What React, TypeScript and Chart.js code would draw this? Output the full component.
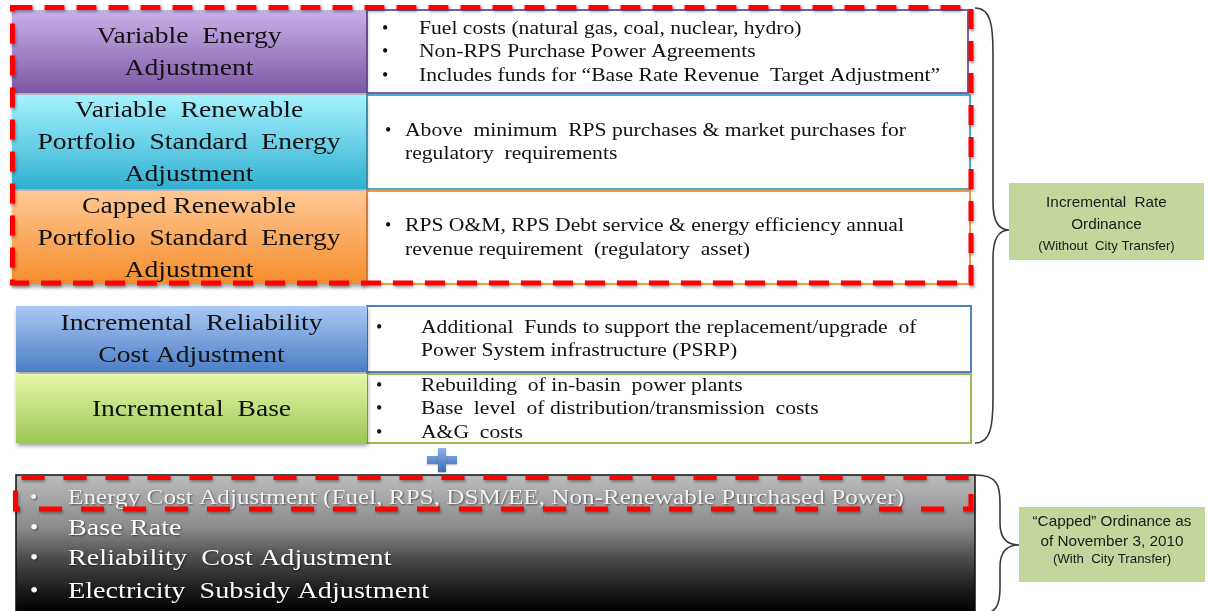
import React, { useEffect, useRef } from "react";
import { Chart, registerables } from "chart.js";

Chart.register(...registerables);

// ---------------- data ----------------
const componentLabels: string[][] = [
  ["Variable  Energy", "Adjustment"],
  ["Variable  Renewable", "Portfolio  Standard  Energy", "Adjustment"],
  ["Capped Renewable", "Portfolio  Standard  Energy", "Adjustment"],
  ["Incremental  Reliability", "Cost Adjustment"],
  ["Incremental  Base"],
];

// each item: lines; first line carries the bullet
const componentDetails: string[][][] = [
  [
    ["Fuel costs (natural gas, coal, nuclear, hydro)"],
    ["Non-RPS Purchase Power Agreements"],
    ["Includes funds for \u201CBase Rate Revenue  Target Adjustment\u201D"],
  ],
  [["Above  minimum  RPS purchases & market purchases for", "regulatory  requirements"]],
  [["RPS O&M, RPS Debt service & energy efficiency annual", "revenue requirement  (regulatory  asset)"]],
  [["Additional  Funds to support the replacement/upgrade  of", "Power System infrastructure (PSRP)"]],
  [
    ["Rebuilding  of in-basin  power plants"],
    ["Base  level  of distribution/transmission  costs"],
    ["A&G  costs"],
  ],
];

const cappedItems: string[] = [
  "Energy Cost Adjustment (Fuel, RPS, DSM/EE, Non-Renewable Purchased Power)",
  "Base Rate",
  "Reliability  Cost Adjustment",
  "Electricity  Subsidy Adjustment",
];

const ordinanceLabels: string[][] = [
  ["Incremental  Rate", "Ordinance", "(Without  City Transfer)"],
  ["\u201CCapped\u201D Ordinance as", "of November 3, 2010", "(With  City Transfer)"],
];

// ---------------- styles & layout ----------------
const gradTop = ["#c9b2e8", "#a6f2ff", "#fec894", "#aac9f4", "#e6f8aa"];
const gradBottom = ["#7c57a5", "#2fb0d2", "#f68d2c", "#4b7dc6", "#9cc655"];
const borderColors = ["#7e5fab", "#4bacc6", "#f79646", "#4f81bd", "#9bbb59"];

const leftBoxes = [
  [12, 366, 10, 93],
  [12, 366, 95, 189],
  [12, 366, 191, 284],
  [16, 367, 306, 372],
  [16, 367, 374, 443],
];
const rightBoxes = [
  [367, 968, 10, 93],
  [367, 970, 95, 189],
  [367, 970, 191, 284],
  [367, 971, 306, 372],
  [367, 971, 374, 443],
];
const detailIndent = [
  [382, 419],
  [385, 405],
  [385, 405],
  [376, 421],
  [376, 421],
];

const SERIF = '"Liberation Serif", "Times New Roman", serif';
const SANS = '"Liberation Sans", Arial, sans-serif';
const STRETCH = 1.2;

function drawText(
  ctx: CanvasRenderingContext2D,
  text: string,
  x: number,
  y: number,
  size: number,
  family: string,
  align: "left" | "center",
  color: string,
  sx: number
) {
  ctx.save();
  ctx.font = `${size}px ${family}`;
  ctx.fillStyle = color;
  ctx.textBaseline = "middle";
  ctx.textAlign = "left";
  const w = ctx.measureText(text).width * sx;
  const x0 = align === "center" ? x - w / 2 : x;
  ctx.translate(x0, y);
  ctx.scale(sx, 1);
  ctx.fillText(text, 0, 0);
  ctx.restore();
}

function drawBrace(
  ctx: CanvasRenderingContext2D,
  x0: number,
  y0: number,
  y1: number,
  xm: number,
  xt: number,
  yt: number,
  r: number,
  rt: number
) {
  ctx.beginPath();
  ctx.moveTo(x0, y0);
  ctx.bezierCurveTo(xm - 2, y0, xm, y0 + r * 0.4, xm, y0 + r);
  ctx.lineTo(xm, yt - rt);
  ctx.bezierCurveTo(xm, yt - rt * 0.3, xt - (xt - xm) * 0.6, yt, xt, yt);
  ctx.bezierCurveTo(xt - (xt - xm) * 0.6, yt, xm, yt + rt * 0.3, xm, yt + rt);
  ctx.lineTo(xm, y1 - r);
  ctx.bezierCurveTo(xm, y1 - r * 0.4, xm - 2, y1, x0, y1);
  ctx.stroke();
}

const diagramPlugin = {
  id: "rateDiagram",
  afterDraw(chart: any) {
    const ctx: CanvasRenderingContext2D = chart.ctx;
    const xs = chart.scales.x;
    const ys = chart.scales.y;
    const px = (v: number) => xs.getPixelForValue(v);
    const py = (v: number) => ys.getPixelForValue(v);

    ctx.save();
    ctx.fillStyle = "#ffffff";
    ctx.fillRect(px(0), py(0), px(1208) - px(0), py(611) - py(0));

    // right (detail) boxes
    rightBoxes.forEach((b, i) => {
      ctx.save();
      ctx.strokeStyle = borderColors[i];
      ctx.lineWidth = 2;
      ctx.strokeRect(px(b[0]), py(b[2]), px(b[1]) - px(b[0]), py(b[3]) - py(b[2]));
      ctx.restore();
    });

    // left (component) boxes with gradients
    leftBoxes.forEach((b, i) => {
      const x0 = px(b[0]), x1 = px(b[1]), y0 = py(b[2]), y1 = py(b[3]);
      const g = ctx.createLinearGradient(0, y0, 0, y1);
      g.addColorStop(0, gradTop[i]);
      g.addColorStop(1, gradBottom[i]);
      ctx.save();
      ctx.shadowColor = "rgba(0,0,0,0.35)";
      ctx.shadowBlur = 4;
      ctx.shadowOffsetX = 1;
      ctx.shadowOffsetY = 3;
      ctx.fillStyle = g;
      ctx.fillRect(x0, y0, x1 - x0, y1 - y0);
      ctx.restore();
      const lines = componentLabels[i];
      const cy = (b[2] + b[3]) / 2 + 1;
      const lh = 32;
      lines.forEach((t, k) => {
        const y = cy + (k - (lines.length - 1) / 2) * lh;
        drawText(ctx, t, px((b[0] + b[1]) / 2), py(y), 23, SERIF, "center", "#111111", STRETCH);
      });
    });

    // detail texts
    componentDetails.forEach((items, i) => {
      const b = rightBoxes[i];
      const lines: { t: string; bullet: boolean }[] = [];
      items.forEach((it) => it.forEach((t, k) => lines.push({ t, bullet: k === 0 })));
      const cy = (b[2] + b[3]) / 2 + 1;
      const lh = 23.5;
      lines.forEach((ln, k) => {
        const y = cy + (k - (lines.length - 1) / 2) * lh;
        if (ln.bullet) drawText(ctx, "\u2022", px(detailIndent[i][0]), py(y), 18, SERIF, "left", "#111111", 1);
        drawText(ctx, ln.t, px(detailIndent[i][1]), py(y), 18, SERIF, "left", "#111111", STRETCH);
      });
    });

    // red dashed outline (top group)
    ctx.save();
    ctx.strokeStyle = "#ff0000";
    ctx.lineWidth = 5;
    ctx.setLineDash([20, 12]);
    ctx.shadowColor = "rgba(0,0,0,0.35)";
    ctx.shadowBlur = 3;
    ctx.shadowOffsetX = 1;
    ctx.shadowOffsetY = 2;
    ctx.strokeRect(px(12.5), py(7.5), px(971) - px(12.5), py(283) - py(7.5));
    ctx.restore();

    // plus sign
    {
      const cx = px(442), cy = py(460);
      const g = ctx.createLinearGradient(0, cy - 12, 0, cy + 12);
      g.addColorStop(0, "#8db3e8");
      g.addColorStop(1, "#3d6cb3");
      ctx.save();
      ctx.shadowColor = "rgba(0,0,0,0.3)";
      ctx.shadowBlur = 2;
      ctx.shadowOffsetY = 1;
      ctx.fillStyle = g;
      ctx.fillRect(cx - 15, cy - 4, 30, 8);
      ctx.fillRect(cx - 4, cy - 12, 8, 24);
      ctx.restore();
    }

    // bottom capped box
    {
      const x0 = px(16), x1 = px(975), y0 = py(475), y1 = py(615);
      const g = ctx.createLinearGradient(0, y0, 0, py(611));
      g.addColorStop(0, "#bcbcbc");
      g.addColorStop(0.39, "#8a8a8a");
      g.addColorStop(0.62, "#4a4a4a");
      g.addColorStop(0.85, "#1a1a1a");
      g.addColorStop(1, "#030303");
      ctx.save();
      ctx.fillStyle = g;
      ctx.fillRect(x0, y0, x1 - x0, y1 - y0);
      ctx.strokeStyle = "#111111";
      ctx.lineWidth = 1.5;
      ctx.strokeRect(x0, y0, x1 - x0, y1 - y0);
      ctx.restore();

      const ys2 = [498, 529, 559, 592];
      const sizes = [21, 23.5, 23.5, 23.5];
      cappedItems.forEach((t, k) => {
        ctx.save();
        ctx.shadowColor = "rgba(0,0,0,0.5)";
        ctx.shadowBlur = 2;
        ctx.shadowOffsetX = 1;
        ctx.shadowOffsetY = 1;
        const col = k === 0 ? "#f2f2f2" : "#ffffff";
        drawText(ctx, "\u2022", px(30), py(ys2[k]), sizes[k], SERIF, "left", col, 1);
        drawText(ctx, t, px(68), py(ys2[k]), sizes[k], SERIF, "left", col, STRETCH);
        ctx.restore();
      });

      ctx.save();
      ctx.strokeStyle = "#ff0000";
      ctx.lineWidth = 5;
      ctx.setLineDash([23, 19]);
      ctx.lineDashOffset = -6;
      ctx.shadowColor = "rgba(0,0,0,0.35)";
      ctx.shadowBlur = 3;
      ctx.shadowOffsetX = 1;
      ctx.shadowOffsetY = 2;
      ctx.strokeRect(px(15.5), py(477.5), px(971) - px(15.5), py(509) - py(477.5));
      ctx.restore();
    }

    // braces
    ctx.save();
    ctx.strokeStyle = "#3a3a3a";
    ctx.lineWidth = 1.6;
    drawBrace(ctx, px(975), py(8), py(443), px(993), px(1009), py(230), 45, 28);
    drawBrace(ctx, px(975), py(475), py(615), px(1000), px(1019), py(545), 28, 22);
    ctx.restore();

    // ordinance label boxes
    const labelBoxes = [
      [1009, 1204, 183, 260],
      [1019, 1205, 507, 582],
    ];
    const labelLines = [
      [203, 225, 246],
      [522, 542, 559],
    ];
    labelBoxes.forEach((b, i) => {
      ctx.save();
      ctx.fillStyle = "#c3d69b";
      ctx.fillRect(px(b[0]), py(b[2]), px(b[1]) - px(b[0]), py(b[3]) - py(b[2]));
      ctx.restore();
      const cx = px((b[0] + b[1]) / 2);
      ordinanceLabels[i].forEach((t, k) => {
        const size = k === 2 ? 13 : 15;
        drawText(ctx, t, cx, py(labelLines[i][k]), size, SANS, "center", "#1a1a1a", 1.02);
      });
    });

    ctx.restore();
  },
};

export default function App() {
  const canvasRef = useRef<HTMLCanvasElement | null>(null);

  useEffect(() => {
    document.body.style.margin = "0";
    document.body.style.overflow = "hidden";
    const canvas = canvasRef.current;
    if (!canvas) return;
    const chart = new Chart(canvas, {
      type: "scatter",
      data: { datasets: [{ data: [], showLine: false }] },
      options: {
        animation: false,
        responsive: true,
        maintainAspectRatio: false,
        layout: { padding: 0 },
        plugins: { legend: { display: false }, tooltip: { enabled: false } },
        scales: {
          x: { type: "linear", min: 0, max: 1208, display: false },
          y: { type: "linear", min: 0, max: 611, reverse: true, display: false },
        },
      },
      plugins: [diagramPlugin],
    });
    return () => chart.destroy();
  }, []);

  return (
    <div style={{ width: 1208, height: 611, position: "relative" }}>
      <canvas ref={canvasRef} />
    </div>
  );
}
